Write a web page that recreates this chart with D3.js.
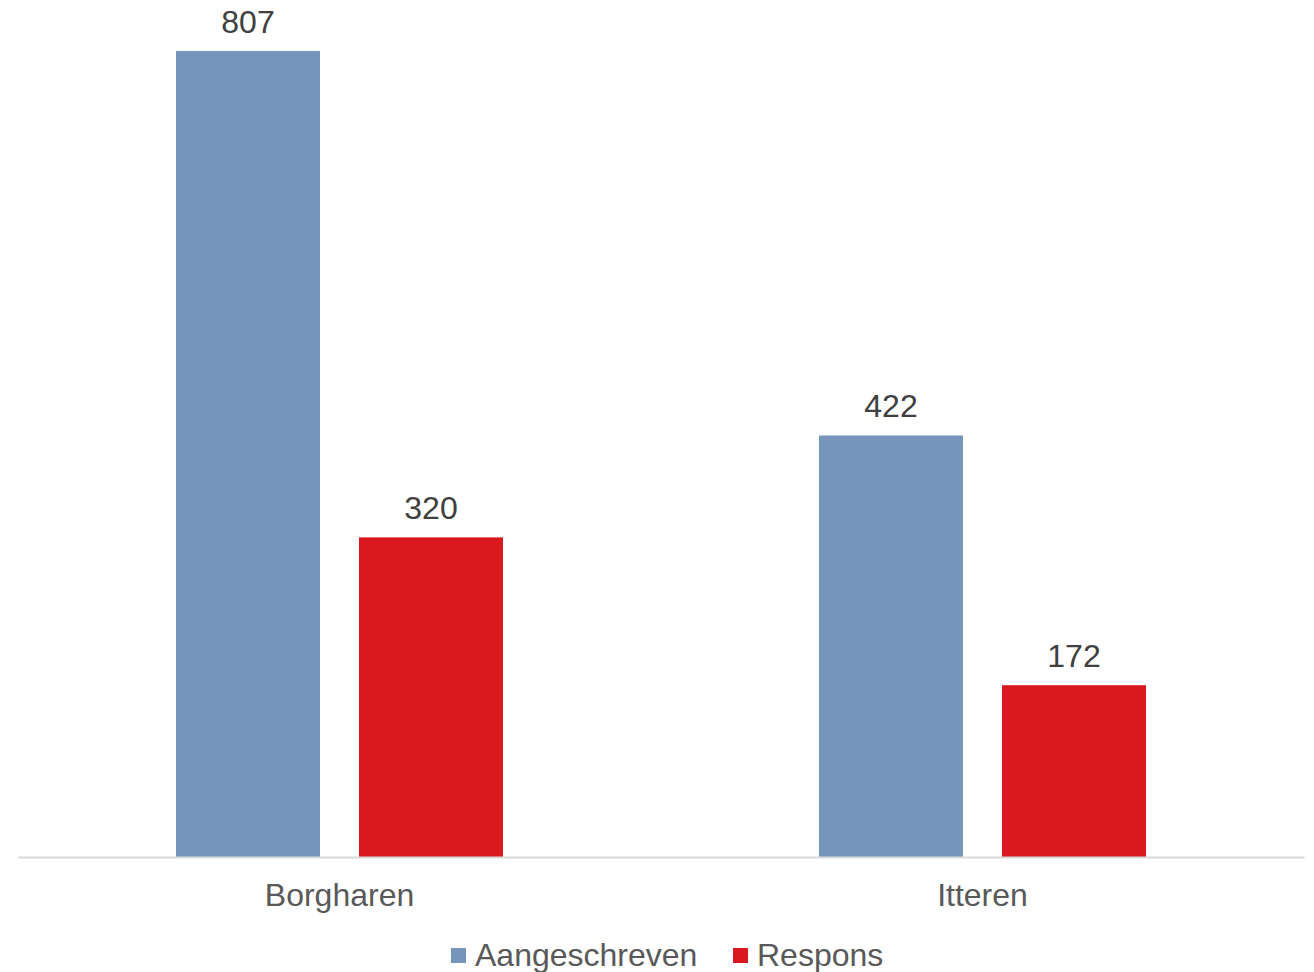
<!DOCTYPE html>
<html>
<head>
<meta charset="utf-8">
<script src="https://cdn.jsdelivr.net/npm/d3@7"></script>
<style>
  body { margin: 0; background: #fff; }
  text { font-family: "Liberation Sans", Arial, sans-serif; }
</style>
</head>
<body>
<div id="chart"></div>
<script>
// data
var categories = ["Borgharen", "Itteren"];
var seriesNames = ["Aangeschreven", "Respons"];
var aangeschreven = [807, 422];
var respons = [320, 172];
var colors = ["#7695BA", "#D9181F"];

var width = 1314, height = 972;
var plot = { left: 18, right: 1304, top: 0, bottom: 857 };

var svg = d3.select('#chart').append('svg')
              .attr("width", width)
              .attr("height", height);

var x0 = d3.scaleBand()
            .domain(categories)
            .range([plot.left, plot.right])
            .paddingInner(0)
            .paddingOuter(0);

var groupW = 327;
var x1 = d3.scaleBand()
            .domain(seriesNames)
            .range([0, groupW])
            .paddingInner(39 / 183);

var y = d3.scaleLinear()
            .domain([0, 858])
            .range([plot.bottom, plot.top]);

var rows = categories.map(function(c, i) {
  return { cat: c, values: [aangeschreven[i], respons[i]] };
});

var groups = svg.selectAll('.group')
                  .data(rows).enter()
                  .append('g')
                  .attr('class', 'group')
                  .attr('transform', function(d) {
                    return 'translate(' + (x0(d.cat) + (x0.bandwidth() - groupW) / 2) + ',0)';
                  });

groups.selectAll('rect')
        .data(function(d) { return d.values.map(function(v, j) { return { s: seriesNames[j], v: v, j: j }; }); })
        .enter().append('rect')
        .attr('x', function(d) { return x1(d.s); })
        .attr('y', function(d) { return y(d.v); })
        .attr('width', x1.bandwidth())
        .attr('height', function(d) { return y(0) - y(d.v); })
        .style('fill', function(d) { return colors[d.j]; });

groups.selectAll('.val')
        .data(function(d) { return d.values.map(function(v, j) { return { s: seriesNames[j], v: v }; }); })
        .enter().append('text')
        .attr('class', 'val')
        .attr('x', function(d) { return x1(d.s) + x1.bandwidth() / 2; })
        .attr('y', function(d) { return y(d.v) - 18; })
        .attr('text-anchor', 'middle')
        .style('font-size', '32px')
        .style('fill', '#404040')
        .text(function(d) { return d.v; });

// x axis
var xAxis = svg.append('g')
                 .attr('transform', 'translate(0,' + plot.bottom + ')')
                 .call(d3.axisBottom(x0).tickSize(0).tickPadding(26));
xAxis.select('.domain').attr('stroke', '#d9d9d9').attr('stroke-width', 2);
xAxis.selectAll('text')
       .style('font-size', '32px')
       .style('fill', '#595959')
       .style('font-family', '"Liberation Sans", Arial, sans-serif');

// legend
var legendX = [451, 733];
var legend = svg.selectAll('.legend')
                  .data(seriesNames).enter()
                  .append('g')
                  .attr('class', 'legend')
                  .attr('transform', function(d, i) { return 'translate(' + legendX[i] + ',948)'; });
legend.append('rect')
        .attr('width', 15)
        .attr('height', 15)
        .style('fill', function(d, i) { return colors[i]; });
legend.append('text')
        .attr('x', 24)
        .attr('y', 18)
        .style('font-size', '32px')
        .style('fill', '#595959')
        .text(function(d) { return d; });
</script>
</body>
</html>
